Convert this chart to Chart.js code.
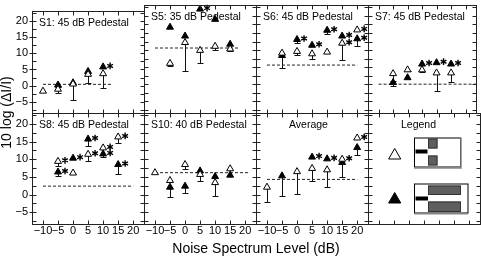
<!DOCTYPE html>
<html>
<head>
<meta charset="utf-8">
<script src="https://cdn.jsdelivr.net/npm/chart.js@4.4.1/dist/chart.umd.min.js"></script>
<style>
  html, body { margin: 0; padding: 0; background: #fff; }
  #wrap { position: relative; width: 481px; height: 256px; }
  #wrap canvas { position: absolute; left: 0; top: 0; }
</style>
</head>
<body>
<div id="wrap"></div>
<script>
// noise spectrum levels (dB) and axis ticks
const noise = [-10, -5, 0, 5, 10, 15, 20];
const xTickVals = [-10, -5, 0, 5, 10, 15, 20];
const yTickVals = [-5, 0, 5, 10, 15, 20];

// S1: 45 dB Pedestal
const s1Open = [-1.7, -1.1, 0.5, 3.5, 3.7, null, null];
const s1OpenErr = [null, -2.4, -4.4, 0.9, -0.8, null, null];
const s1Filled = [null, 0.2, 0.9, 4.4, 5.8, null, null];
const s1FilledErr = [null, -0.5, null, null, null, null, null];
const s1OpenSig = [0, 0, 0, 0, 0, 0, 0];
const s1FilledSig = [0, 0, 0, 0, 1, 0, 0];
const s1Dash = [0.4, -10, 13];

// S5: 35 dB Pedestal
const s5Open = [null, 6.1, 12.2, 9.9, 11.1, 10.3, null];
const s5OpenErr = [null, 5.4, 3.9, 6.3, 10.1, 9.6, null];
const s5Filled = [null, 16.7, 14.1, 22.0, 19.0, 11.7, null];
const s5FilledErr = [null, null, null, null, null, null, null];
const s5OpenSig = [0, 0, 0, 0, 0, 0, 0];
const s5FilledSig = [0, 0, 0, 1, 0, 0, 0];
const s5Dash = [10.6, -10, 18];

// S6: 45 dB Pedestal
const s6Open = [null, 9.1, 9.6, 8.9, 9.4, 12.0, 15.9];
const s6OpenErr = [null, 4.7, 8.5, 7.5, null, 7.0, null];
const s6Filled = [null, 8.4, 13.1, 11.4, 15.8, 14.1, 13.3];
const s6FilledErr = [null, null, 12.0, null, 14.8, null, 11.3];
const s6OpenSig = [0, 0, 0, 0, 0, 1, 1];
const s6FilledSig = [0, 0, 1, 1, 1, 1, 1];
const s6Dash = [5.6, -10, 20];

// S7: 45 dB Pedestal
const s7Open = [null, 3.1, 4.2, 4.2, 3.3, 3.3, null];
const s7OpenErr = [null, 1.0, 3.8, 3.5, -2.1, 0.5, null];
const s7Filled = [null, 0.5, 1.9, 5.9, 6.3, 5.9, null];
const s7FilledErr = [null, -0.5, null, null, null, null, null];
const s7OpenSig = [0, 0, 0, 0, 0, 0, 0];
const s7FilledSig = [0, 0, 0, 1, 1, 1, 0];
const s7Dash = [0.0, -10, 23.6];

// S8: 45 dB Pedestal
const s8Open = [null, 9.4, 6.1, 11.4, 13.2, 16.3, null];
const s8OpenErr = [null, 8.2, null, 9.6, null, 14.6, null];
const s8Filled = [null, 6.4, 10.3, 15.7, 11.5, 8.5, null];
const s8FilledErr = [null, 5.2, null, 13.8, 10.6, 5.7, null];
const s8OpenSig = [0, 1, 0, 1, 1, 1, 0];
const s8FilledSig = [0, 1, 1, 1, 1, 1, 0];
const s8Dash = [2.4, -10, 20];

// S10: 40 dB Pedestal
const s10Open = [6.2, 4.0, 8.5, 5.7, 3.4, 7.3, null];
const s10OpenErr = [null, null, 7.3, 3.8, -0.4, null, null];
const s10Filled = [null, 2.1, 2.4, 6.7, 5.1, 5.5, null];
const s10FilledErr = [null, -0.6, 0.4, null, null, null, null];
const s10OpenSig = [0, 0, 0, 0, 0, 0, 0];
const s10FilledSig = [0, 0, 0, 0, 0, 0, 0];
const s10Dash = [6.2, -10, 21];

// Average
const avgOpen = [2.1, null, 6.5, 7.4, 7.0, 10.0, 16.0];
const avgOpenErr = [-2.0, null, 0.2, 3.9, 2.1, 5.0, null];
const avgFilled = [null, 5.3, null, 10.6, 10.1, 9.1, 13.3];
const avgFilledErr = [null, -0.4, null, null, null, null, 11.3];
const avgOpenSig = [0, 0, 0, 0, 0, 1, 1];
const avgFilledSig = [0, 0, 0, 1, 1, 0, 0];
const avgDash = [4.3, -10, 20];

const X_MIN = -13.65, X_MAX = 23.6;
const Y_MIN = -8.3, Y_MAX = 23.2;
const colX = [32, 144, 256, 368];
const rowY = [1, 112.5];
const PW = 112, PH = 111.5;
const XAXIS_H = 22;
const FONT = '"Liberation Sans", Arial, sans-serif';

const panels = [
  { title: 'S1: 45 dB Pedestal', col: 0, row: 0, tx: 7, open: s1Open, openErr: s1OpenErr, filled: s1Filled, filledErr: s1FilledErr, openSig: s1OpenSig, filledSig: s1FilledSig, dash: s1Dash },
  { title: 'S5: 35 dB Pedestal', col: 1, row: 0, tx: 7, open: s5Open, openErr: s5OpenErr, filled: s5Filled, filledErr: s5FilledErr, openSig: s5OpenSig, filledSig: s5FilledSig, dash: s5Dash },
  { title: 'S6: 45 dB Pedestal', col: 2, row: 0, tx: 7, open: s6Open, openErr: s6OpenErr, filled: s6Filled, filledErr: s6FilledErr, openSig: s6OpenSig, filledSig: s6FilledSig, dash: s6Dash },
  { title: 'S7: 45 dB Pedestal', col: 3, row: 0, tx: 7, open: s7Open, openErr: s7OpenErr, filled: s7Filled, filledErr: s7FilledErr, openSig: s7OpenSig, filledSig: s7FilledSig, dash: s7Dash },
  { title: 'S8: 45 dB Pedestal', col: 0, row: 1, tx: 7, open: s8Open, openErr: s8OpenErr, filled: s8Filled, filledErr: s8FilledErr, openSig: s8OpenSig, filledSig: s8FilledSig, dash: s8Dash },
  { title: 'S10: 40 dB Pedestal', col: 1, row: 1, tx: 7, open: s10Open, openErr: s10OpenErr, filled: s10Filled, filledErr: s10FilledErr, openSig: s10OpenSig, filledSig: s10FilledSig, dash: s10Dash },
  { title: 'Average', col: 2, row: 1, tx: 33, open: avgOpen, openErr: avgOpenErr, filled: avgFilled, filledErr: avgFilledErr, openSig: avgOpenSig, filledSig: avgFilledSig, dash: avgDash },
  { title: 'Legend', col: 3, row: 1, tx: 33, legend: true }
];

const minus = v => (v < 0 ? '\u2212' + Math.abs(v) : String(v));
const toPoints = vals => noise.map((x, i) => ({ x: x, y: vals[i] })).filter(p => p.y !== null);

function drawStar(ctx, cx, cy, r) {
  ctx.beginPath();
  for (let k = 0; k < 3; k++) {
    const a = Math.PI / 2 + k * Math.PI / 3;
    ctx.moveTo(cx + r * Math.cos(a), cy + r * Math.sin(a));
    ctx.lineTo(cx - r * Math.cos(a), cy - r * Math.sin(a));
  }
  ctx.stroke();
}

function triangle(ctx, cx, cy, r, fill) {
  ctx.beginPath();
  for (let k = 0; k < 3; k++) {
    const a = -Math.PI / 2 + k * 2 * Math.PI / 3;
    const px = cx + r * Math.cos(a), py = cy + r * Math.sin(a);
    if (k === 0) ctx.moveTo(px, py); else ctx.lineTo(px, py);
  }
  ctx.closePath();
  ctx.fillStyle = fill;
  ctx.fill();
  ctx.stroke();
}

function drawLegendArt(ctx, a) {
  const L = a.left, T = a.top;
  ctx.save();
  ctx.strokeStyle = '#000';
  ctx.lineWidth = 1;
  triangle(ctx, L + 26.7, T + 43, 7, '#fff');
  triangle(ctx, L + 26.7, T + 87, 7, '#000');

  // box 1: short gray blocks
  ctx.fillStyle = '#fff';
  ctx.fillRect(L + 46, T + 25, 47, 30);
  ctx.strokeRect(L + 46.5, T + 25.5, 46, 29);
  ctx.strokeStyle = '#888';
  ctx.lineWidth = 1.5;
  ctx.beginPath();
  ctx.moveTo(L + 93, T + 25); ctx.lineTo(L + 93, T + 55.5); ctx.lineTo(L + 46, T + 55.5);
  ctx.stroke();
  ctx.lineWidth = 1;
  ctx.strokeStyle = '#333';
  ctx.fillStyle = '#000';
  ctx.fillRect(L + 47.5, T + 37, 12, 4);
  ctx.fillStyle = '#5e5e5e';
  ctx.fillRect(L + 60, T + 26, 9.5, 10);
  ctx.strokeRect(L + 60.5, T + 26.5, 8.5, 9);
  ctx.fillRect(L + 60, T + 43, 9.5, 10);
  ctx.strokeRect(L + 60.5, T + 43.5, 8.5, 9);

  // box 2: long gray blocks
  ctx.strokeStyle = '#000';
  ctx.strokeRect(L + 46.5, T + 71.5, 53.5, 29);
  ctx.strokeStyle = '#888';
  ctx.beginPath();
  ctx.moveTo(L + 46, T + 101.5); ctx.lineTo(L + 100, T + 101.5);
  ctx.stroke();
  ctx.strokeStyle = '#333';
  ctx.fillStyle = '#000';
  ctx.fillRect(L + 47.5, T + 84, 12.5, 4);
  ctx.fillStyle = '#5e5e5e';
  ctx.fillRect(L + 60, T + 73, 33, 9.5);
  ctx.strokeRect(L + 60.5, T + 73.5, 32, 8.5);
  ctx.fillRect(L + 60, T + 89, 33, 10.5);
  ctx.strokeRect(L + 60.5, T + 89.5, 32, 9.5);
  ctx.restore();
}

function panelPlugin(p, index) {
  return {
    id: 'panel' + index,
    beforeDatasetsDraw(chart) {
      if (p.legend) return;
      const ctx = chart.ctx, x = chart.scales.x, y = chart.scales.y;
      ctx.save();
      ctx.strokeStyle = '#111';
      ctx.lineWidth = 1;
      [[p.open, p.openErr], [p.filled, p.filledErr]].forEach(([vals, errs]) => {
        noise.forEach((n, i) => {
          if (vals[i] === null || errs[i] === null) return;
          const px = Math.round(x.getPixelForValue(n)) + 0.5;
          const y0 = y.getPixelForValue(vals[i]);
          const y1 = Math.round(y.getPixelForValue(errs[i])) + 0.5;
          ctx.beginPath();
          ctx.moveTo(px, y0); ctx.lineTo(px, y1);
          ctx.moveTo(px - 3, y1); ctx.lineTo(px + 3, y1);
          ctx.stroke();
        });
      });
      ctx.restore();
    },
    afterDatasetsDraw(chart) {
      if (p.legend) return;
      const ctx = chart.ctx, x = chart.scales.x, y = chart.scales.y;
      ctx.save();
      ctx.strokeStyle = '#000';
      ctx.lineWidth = 1.4;
      [[p.open, p.openSig], [p.filled, p.filledSig]].forEach(([vals, sig]) => {
        noise.forEach((n, i) => {
          if (vals[i] === null || !sig[i]) return;
          drawStar(ctx, x.getPixelForValue(n) + 7, y.getPixelForValue(vals[i]) - 1, 3.3);
        });
      });
      ctx.restore();
    },
    afterDraw(chart) {
      const ctx = chart.ctx, a = chart.chartArea;
      const x = chart.scales.x, y = chart.scales.y;
      const l = Math.round(a.left) + 0.5, r = Math.round(a.right) + 0.5;
      const t = Math.round(a.top) + 0.5, b = Math.round(a.bottom) + 0.5;
      ctx.save();
      ctx.strokeStyle = '#222';
      ctx.lineWidth = 1;
      ctx.strokeRect(l, t, r - l, b - t);
      ctx.beginPath();
      for (let v = -7.5; v <= 22.5; v += 2.5) {
        const py = Math.round(y.getPixelForValue(v)) + 0.5;
        ctx.moveTo(l, py); ctx.lineTo(l + 4, py);
        ctx.moveTo(r, py); ctx.lineTo(r - 4, py);
        if (p.col === 0 && v % 5 === 0) { ctx.moveTo(l, py); ctx.lineTo(l - 3, py); }
      }
      xTickVals.forEach(v => {
        const px = Math.round(x.getPixelForValue(v)) + 0.5;
        ctx.moveTo(px, t); ctx.lineTo(px, t + 4);
        ctx.moveTo(px, b); ctx.lineTo(px, b - 4);
      });
      ctx.stroke();

      ctx.fillStyle = '#000';
      ctx.font = '10.5px ' + FONT;
      ctx.textBaseline = 'alphabetic';
      ctx.textAlign = 'left';
      ctx.fillText(p.title, a.left + p.tx, a.top + 15);

      if (p.legend) drawLegendArt(ctx, a);

      if (index === 0) {
        ctx.font = '14px ' + FONT;
        ctx.textAlign = 'center';
        ctx.textBaseline = 'middle';
        ctx.fillText('Noise Spectrum Level (dB)', 256, 249);
        ctx.translate(7, 112.5);
        ctx.rotate(-Math.PI / 2);
        ctx.fillText('10 log (\u0394I/I)', 0, 0);
      }
      ctx.restore();
    }
  };
}

const wrap = document.getElementById('wrap');
const tickFont = { family: FONT, size: 11 };

panels.forEach((p, index) => {
  const canvas = document.createElement('canvas');
  canvas.width = 481;
  canvas.height = 256;
  wrap.appendChild(canvas);
  const left = colX[p.col], top = rowY[p.row];
  const showY = p.col === 0;
  const showX = p.row === 1 && !p.legend;

  const datasets = [];
  if (!p.legend) {
    datasets.push({
      label: 'open', data: toPoints(p.open), pointStyle: 'triangle', pointRadius: 4,
      backgroundColor: '#fff', borderColor: '#000', borderWidth: 1, clip: false
    });
    datasets.push({
      label: 'filled', data: toPoints(p.filled), pointStyle: 'triangle', pointRadius: 4,
      backgroundColor: '#000', borderColor: '#000', borderWidth: 1, clip: false
    });
    datasets.push({
      label: 'criterion', data: [{ x: p.dash[1], y: p.dash[0] }, { x: p.dash[2], y: p.dash[0] }],
      showLine: true, pointRadius: 0, borderColor: '#222', borderWidth: 1, borderDash: [3, 2]
    });
  }

  new Chart(canvas, {
    type: 'scatter',
    data: { datasets: datasets },
    options: {
      responsive: false,
      animation: false,
      devicePixelRatio: 1,
      events: [],
      layout: {
        padding: {
          left: showY ? 0 : left,
          top: top,
          right: 481 - left - PW,
          bottom: 256 - top - PH - (showX ? XAXIS_H : 0)
        }
      },
      plugins: { legend: { display: false }, tooltip: { enabled: false } },
      scales: {
        x: {
          type: 'linear', min: X_MIN, max: X_MAX,
          display: showX,
          afterBuildTicks: s => { s.ticks = xTickVals.map(v => ({ value: v })); },
          afterFit: s => { s.height = showX ? XAXIS_H : 0; },
          grid: { display: false, drawTicks: false }, border: { display: false },
          ticks: { font: tickFont, color: '#000', padding: 0, autoSkip: false, maxRotation: 0, minRotation: 0, callback: minus }
        },
        y: {
          type: 'linear', min: Y_MIN, max: Y_MAX,
          display: showY,
          afterBuildTicks: s => { s.ticks = yTickVals.map(v => ({ value: v })); },
          afterFit: s => { s.width = showY ? left : 0; },
          grid: { display: false, drawTicks: false }, border: { display: false },
          ticks: { font: tickFont, color: '#000', padding: 4, autoSkip: false, callback: minus }
        }
      }
    },
    plugins: [panelPlugin(p, index)]
  });
});
</script>
</body>
</html>
